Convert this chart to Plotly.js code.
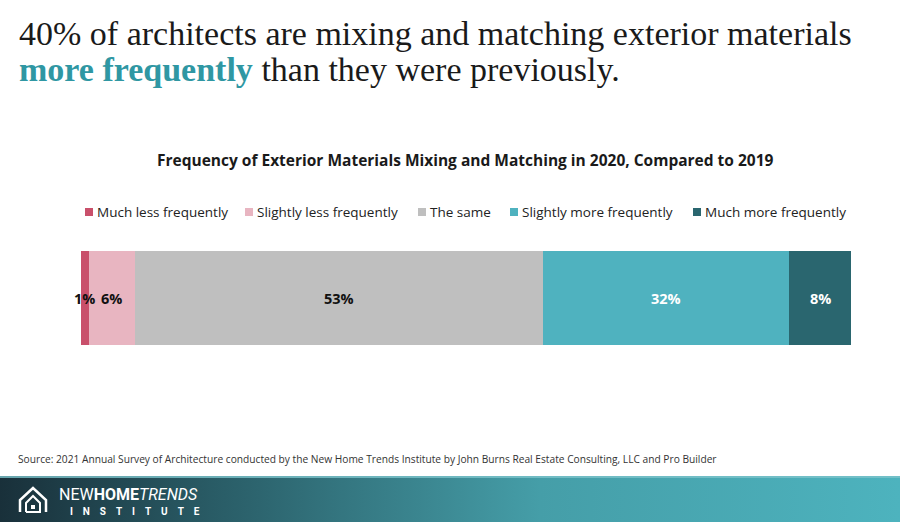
<!DOCTYPE html>
<html>
<head>
<meta charset="utf-8">
<script src="https://cdn.plot.ly/plotly-3.0.1.min.js"></script>
<style>html,body{margin:0;padding:0;background:#fff;}#chart{width:900px;height:522px;}</style>
</head>
<body>
<div id="chart"></div>
<script>
// ---- data ----
var categories = ["Much less frequently", "Slightly less frequently", "The same", "Slightly more frequently", "Much more frequently"];
var values = [1, 6, 53, 32, 8];
var labels = ["1%", "6%", "53%", "32%", "8%"];
var colors = ["#c9506b", "#e8b5c1", "#bfbfbf", "#4fb2bf", "#2a666f"];
var labelColors = ["#111111", "#111111", "#111111", "#ffffff", "#ffffff"];

// ---- layout geometry (pixels) ----
var W = 900, H = 522;
var mL = 81, mR = 49, mT = 251, mB = 177;
var pw = W - mL - mR, ph = H - mT - mB;
function px(x) { return (x - mL) / pw; }
function py(y) { return (H - mB - y) / ph; }
var legendX = [85, 245, 418, 510, 693]; // left edge of each legend swatch (px)
var legendY = 212;

var traces = categories.map(function (c, i) {
  return {
    type: "bar",
    orientation: "h",
    name: c,
    showlegend: false,
    y: ["row"],
    x: [values[i]],
    marker: { color: colors[i], line: { width: 0 } },
    hoverinfo: "skip"
  };
});

var gradSvg = '<svg xmlns="http://www.w3.org/2000/svg" width="900" height="46" preserveAspectRatio="none">' +
  '<defs><linearGradient id="g" x1="0" y1="0" x2="1" y2="0">' +
  '<stop offset="0" stop-color="#19303a"/><stop offset="0.25" stop-color="#2a5e68"/>' +
  '<stop offset="0.6" stop-color="#459ea8"/><stop offset="1" stop-color="#4db3be"/>' +
  '</linearGradient></defs><rect width="900" height="46" fill="url(#g)"/>' +
  '<rect width="900" height="2" fill="#7cc3cb" opacity="0.8"/></svg>';
var gradUri = "data:image/svg+xml;charset=utf-8," + encodeURIComponent(gradSvg);

function pathPx(pts) {
  return pts.map(function (p, k) { return (k ? "L" : "M") + px(p[0]) + "," + py(p[1]); }).join(" ");
}

var shapes = [
  { type: "path", xref: "paper", yref: "paper",
    path: pathPx([[20, 512], [20, 500], [33, 488], [46, 500], [46, 512]]),
    line: { color: "#ffffff", width: 2.5 } },
  { type: "path", xref: "paper", yref: "paper",
    path: pathPx([[26, 512], [26, 503], [33, 496], [40, 503], [40, 512], [26, 512]]),
    line: { color: "#ffffff", width: 2 } },
  { type: "rect", xref: "paper", yref: "paper",
    x0: px(31), x1: px(35), y0: py(509), y1: py(505),
    fillcolor: "#ffffff", line: { width: 0 } }
];

var annotations = [
  { xref: "paper", yref: "paper", x: px(17), y: py(33), xanchor: "left", yanchor: "middle",
    showarrow: false, text: "40% of architects are mixing and matching exterior materials",
    font: { family: "Liberation Serif", size: 34, color: "#1a1a1a" } },
  { xref: "paper", yref: "paper", x: px(17), y: py(69), xanchor: "left", yanchor: "middle",
    showarrow: false,
    text: "<span style='color:#2f97a3'><b>more frequently</b></span> than they were previously.",
    font: { family: "Liberation Serif", size: 34, color: "#1a1a1a" } },
  { xref: "paper", yref: "paper", x: px(465), y: py(160), xanchor: "center", yanchor: "middle",
    showarrow: false,
    text: "<b>Frequency of Exterior Materials Mixing and Matching in 2020, Compared to 2019</b>",
    font: { family: "Open Sans", size: 15.5, color: "#1a1a1a" } },
  { xref: "paper", yref: "paper", x: px(16), y: py(459), xanchor: "left", yanchor: "middle",
    showarrow: false,
    text: "Source: 2021 Annual Survey of Architecture conducted by the New Home Trends Institute by John Burns Real Estate Consulting, LLC and Pro Builder",
    font: { family: "Open Sans", size: 10.2, color: "#333333" } },
  { xref: "paper", yref: "paper", x: px(57), y: py(494), xanchor: "left", yanchor: "middle",
    showarrow: false,
    text: "NEW<b>HOME</b><i>TRENDS</i>",
    font: { family: "Roboto", size: 16, color: "#ffffff" } },
  { xref: "paper", yref: "paper", x: px(68), y: py(511), xanchor: "left", yanchor: "middle",
    showarrow: false,
    text: "I&nbsp;&nbsp;&nbsp;&nbsp;N&nbsp;&nbsp;&nbsp;&nbsp;S&nbsp;&nbsp;&nbsp;&nbsp;T&nbsp;&nbsp;&nbsp;&nbsp;I&nbsp;&nbsp;&nbsp;&nbsp;T&nbsp;&nbsp;&nbsp;&nbsp;U&nbsp;&nbsp;&nbsp;&nbsp;T&nbsp;&nbsp;&nbsp;&nbsp;E",
    font: { family: "Roboto", size: 10, color: "#ffffff", weight: 700 } }
];

// value labels at segment midpoints (data coordinates)
var cum = 0;
values.forEach(function (v, i) {
  annotations.push({ xref: "x", yref: "y", x: cum + v / 2, y: "row",
    xanchor: "center", yanchor: "middle", showarrow: false, text: "<b>" + labels[i] + "</b>",
    font: { family: "Open Sans", size: 14.5, color: labelColors[i] } });
  cum += v;
});

// legend: swatch + label per category
categories.forEach(function (c, i) {
  shapes.push({ type: "rect", xref: "paper", yref: "paper",
    x0: px(legendX[i]), x1: px(legendX[i] + 8), y0: py(legendY + 4), y1: py(legendY - 4),
    fillcolor: colors[i], line: { width: 0 } });
  annotations.push({ xref: "paper", yref: "paper", x: px(legendX[i] + 10), y: py(legendY),
    xanchor: "left", yanchor: "middle", showarrow: false, text: c,
    font: { family: "Open Sans", size: 13.5, color: "#222222" } });
});

var layout = {
  width: W, height: H,
  margin: { l: mL, r: mR, t: mT, b: mB, pad: 0 },
  paper_bgcolor: "#ffffff", plot_bgcolor: "#ffffff",
  barmode: "stack", bargap: 0,
  showlegend: false,
  xaxis: { range: [0, 100], visible: false, fixedrange: true },
  yaxis: { visible: false, fixedrange: true, range: [-0.5, 0.5] },
  images: [{
    source: gradUri, xref: "paper", yref: "paper",
    x: px(0), y: py(476), sizex: W / pw, sizey: 46 / ph,
    xanchor: "left", yanchor: "top", sizing: "stretch", layer: "below"
  }],
  shapes: shapes,
  annotations: annotations
};

Plotly.newPlot("chart", traces, layout, { displayModeBar: false, staticPlot: true });
</script>
</body>
</html>
